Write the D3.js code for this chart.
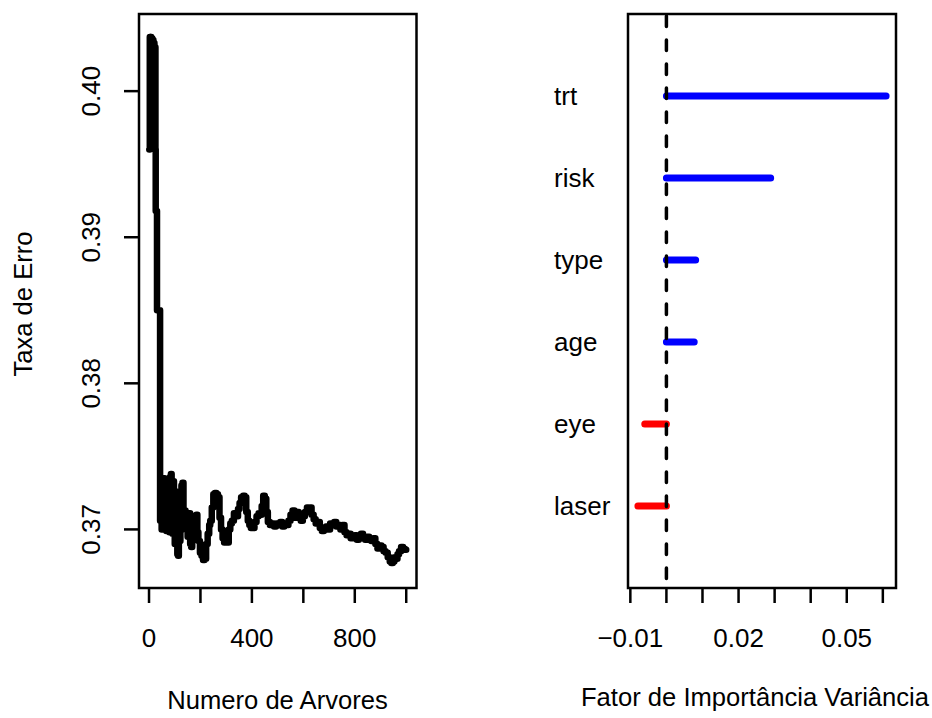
<!DOCTYPE html>
<html lang="pt">
<head>
    <meta charset="UTF-8">
    <title>Random Forest - Erro e Importancia</title>
    <script src="https://d3js.org/d3.v7.min.js"></script>
    <style>
        body{
            margin: 0;
            background-color: #ffffff;
        }
        text{
            font-family: "Liberation Sans", Arial, sans-serif;
            fill: #000000;
        }
        .frame{
            fill: none;
            stroke: #000000;
            stroke-width: 2.5px;
        }
        .tick_line{
            stroke: #000000;
            stroke-width: 2.5px;
        }
        .tick_label{
            font-size: 26px;
        }
        .axis_title{
            font-size: 25.6px;
        }
        .var_label{
            font-size: 26px;
        }
        .err_line{
            fill: none;
            stroke: #000000;
            stroke-width: 6.5px;
            stroke-linejoin: round;
            stroke-linecap: round;
        }
    </style>
</head>
<body>
<svg id="canvas" width="932" height="718" viewBox="0 0 932 718"></svg>
<script>
    // painel esquerdo: taxa de erro OOB por numero de arvores
    let treeCounts = [1, 2, 3, 5, 7, 9, 11, 13, 15, 17, 19, 21, 23, 25, 26, 30, 31, 42,
        43, 46, 49, 52, 55, 58, 61, 64, 67, 70, 73, 76, 79, 82, 85, 88, 91, 94, 97, 100,
        103, 106, 110, 113, 116, 119, 122, 126, 130, 134, 138, 142, 146, 150, 155, 160,
        164, 168, 172, 178, 184, 188, 192, 198, 204, 210, 216, 222, 228, 234, 238, 244,
        250, 256, 262, 268, 274, 280, 286, 292, 298, 304, 310, 316, 322, 330, 338, 346,
        352, 358, 366, 372, 378, 384, 390, 396, 404, 410, 418, 426, 432, 438, 444, 450,
        456, 462, 470, 478, 486, 494, 502, 510, 518, 526, 534, 542, 550, 558, 566, 574,
        582, 590, 598, 606, 614, 620, 626, 632, 640, 648, 656, 664, 672, 680, 688, 696,
        704, 712, 720, 728, 736, 744, 752, 760, 768, 776, 784, 792, 800, 808, 816, 824,
        832, 840, 848, 856, 864, 872, 880, 888, 896, 904, 912, 920, 928, 936, 942, 948,
        954, 960, 966, 972, 980, 988, 994, 1000]
    let errorRates = [0.3960, 0.3960, 0.4037, 0.3962, 0.4037, 0.3962, 0.4036, 0.3962,
        0.4035, 0.3962, 0.4033, 0.3962, 0.4030, 0.3960, 0.3918, 0.3918, 0.3850, 0.3850,
        0.3706, 0.3734, 0.3700, 0.3733, 0.3702, 0.3735, 0.3700, 0.3733, 0.3699, 0.3734,
        0.3703, 0.3731, 0.3698, 0.3736, 0.3738, 0.3700, 0.3697, 0.3733, 0.3712, 0.3690,
        0.3726, 0.3695, 0.3683, 0.3682, 0.3705, 0.3692, 0.3716, 0.3730, 0.3732, 0.3705,
        0.3713, 0.3700, 0.3709, 0.3695, 0.3711, 0.3690, 0.3688, 0.3703, 0.3696, 0.3708,
        0.3710, 0.3698, 0.3692, 0.3684, 0.3682, 0.3679, 0.3680, 0.3690, 0.3697, 0.3703,
        0.3706, 0.3715, 0.3724, 0.3725, 0.3724, 0.3722, 0.3708, 0.3700, 0.3694, 0.3691,
        0.3695, 0.3691, 0.3700, 0.3704, 0.3706, 0.3711, 0.3709, 0.3714, 0.3718, 0.3722,
        0.3723, 0.3722, 0.3712, 0.3706, 0.3703, 0.3701, 0.3701, 0.3705, 0.3709, 0.3711,
        0.3710, 0.3716, 0.3723, 0.3721, 0.3712, 0.3705, 0.3703, 0.3704, 0.3702, 0.3704,
        0.3703, 0.3705, 0.3702, 0.3704, 0.3703, 0.3706, 0.3710, 0.3713, 0.3708, 0.3712,
        0.3709, 0.3706, 0.3709, 0.3712, 0.3715, 0.3713, 0.3715, 0.3710, 0.3707, 0.3704,
        0.3705, 0.3701, 0.3699, 0.3700, 0.3702, 0.3700, 0.3704, 0.3703, 0.3705, 0.3702,
        0.3703, 0.3700, 0.3703, 0.3698, 0.3696, 0.3697, 0.3694, 0.3694, 0.3696, 0.3693,
        0.3696, 0.3697, 0.3695, 0.3693, 0.3695, 0.3694, 0.3692, 0.3694, 0.3690, 0.3687,
        0.3689, 0.3688, 0.3685, 0.3684, 0.3681, 0.3678, 0.3677, 0.3678, 0.3681, 0.3680,
        0.3683, 0.3685, 0.3688, 0.3687, 0.3686, 0.3686]
    let treeTicks = [0, 200, 400, 600, 800, 1000]
    let treeTickLabels = [0, 400, 800]
    let errorTicks = [0.37, 0.38, 0.39, 0.40]

    // painel direito: importancia das variaveis
    let variables = ["laser", "eye", "age", "type", "risk", "trt"]
    let importance = [-0.0079, -0.0060, 0.0077, 0.0081, 0.0289, 0.0609]
    let importanceTicks = [-0.01, 0.00, 0.01, 0.02, 0.03, 0.04, 0.05, 0.06]
    let importanceTickLabels = [-0.01, 0.02, 0.05]

    let svg = d3.select('#canvas')
    svg.append('rect').attr('width', 932).attr('height', 718).attr('fill', '#ffffff')

    let fmt = d3.format(".2f")
    let tickLen = 15

    // ---------- esquerda ----------
    let xTrees = d3.scaleLinear().domain([-38.96, 1039.96]).range([139, 416.5])
    let yErr = d3.scaleLinear().domain([0.36599, 0.40528]).range([588, 14])

    let left = svg.append('g')
    let errLine = d3.line()
        .curve(d3.curveStepAfter)
        .x(function (d, i) { return xTrees(treeCounts[i]) })
        .y(function (d) { return yErr(d) })
    left.append('path')
        .attr('class', 'err_line')
        .attr('d', errLine(errorRates))

    left.append('rect').attr('class', 'frame')
        .attr('x', xTrees.range()[0]).attr('y', yErr.range()[1])
        .attr('width', xTrees.range()[1] - xTrees.range()[0])
        .attr('height', yErr.range()[0] - yErr.range()[1])

    left.selectAll('line.xt').data(treeTicks).enter().append('line')
        .attr('class', 'tick_line')
        .attr('x1', d => xTrees(d)).attr('x2', d => xTrees(d))
        .attr('y1', 588).attr('y2', 588 + tickLen)
    left.selectAll('text.xl').data(treeTickLabels).enter().append('text')
        .attr('class', 'tick_label')
        .attr('x', d => xTrees(d)).attr('y', 647)
        .attr('text-anchor', 'middle')
        .text(d => d)

    left.selectAll('line.yt').data(errorTicks).enter().append('line')
        .attr('class', 'tick_line')
        .attr('x1', 139 - tickLen).attr('x2', 139)
        .attr('y1', d => yErr(d)).attr('y2', d => yErr(d))
    left.selectAll('text.yl').data(errorTicks).enter().append('text')
        .attr('class', 'tick_label')
        .attr('transform', d => `translate(100,${yErr(d)}) rotate(-90)`)
        .attr('text-anchor', 'middle')
        .text(d => fmt(d))

    left.append('text').attr('class', 'axis_title')
        .attr('x', 277.5).attr('y', 709)
        .attr('text-anchor', 'middle')
        .text('Numero de Arvores')
    left.append('text').attr('class', 'axis_title')
        .attr('transform', 'translate(32,304) rotate(-90)')
        .attr('text-anchor', 'middle')
        .text('Taxa de Erro')

    // ---------- direita ----------
    let xImp = d3.scaleLinear().domain([-0.01065, 0.06365]).range([628, 896])
    let yVar = d3.scaleLinear().domain([0, 7]).range([588, 14])

    let right = svg.append('g')
    right.selectAll('line.bar').data(importance).enter().append('line')
        .attr('x1', xImp(0)).attr('x2', d => xImp(d))
        .attr('y1', (d, i) => yVar(i + 1)).attr('y2', (d, i) => yVar(i + 1))
        .attr('stroke', d => d > 0 ? '#0000ff' : '#ff0000')
        .attr('stroke-width', 7)
        .attr('stroke-linecap', 'round')

    right.append('line')
        .attr('x1', xImp(0)).attr('x2', xImp(0))
        .attr('y1', yVar(7) + 2).attr('y2', yVar(0))
        .attr('stroke', '#000000')
        .attr('stroke-width', 3.5)
        .attr('stroke-linecap', 'round')
        .attr('stroke-dasharray', '10.5 13.5')

    right.append('rect').attr('class', 'frame')
        .attr('x', xImp.range()[0]).attr('y', yVar.range()[1])
        .attr('width', xImp.range()[1] - xImp.range()[0])
        .attr('height', yVar.range()[0] - yVar.range()[1])

    right.selectAll('text.vl').data(variables).enter().append('text')
        .attr('class', 'var_label')
        .attr('x', 554).attr('y', (d, i) => yVar(i + 1) + 9)
        .text(d => d)

    right.selectAll('line.xt').data(importanceTicks).enter().append('line')
        .attr('class', 'tick_line')
        .attr('x1', d => xImp(d)).attr('x2', d => xImp(d))
        .attr('y1', 588).attr('y2', 588 + tickLen)
    right.selectAll('text.xl').data(importanceTickLabels).enter().append('text')
        .attr('class', 'tick_label')
        .attr('x', d => xImp(d)).attr('y', 647)
        .attr('text-anchor', 'middle')
        .text(d => fmt(d))

    right.append('text').attr('class', 'axis_title')
        .attr('x', 755).attr('y', 706)
        .attr('text-anchor', 'middle')
        .text('Fator de Importância Variância')
</script>
</body>
</html>
